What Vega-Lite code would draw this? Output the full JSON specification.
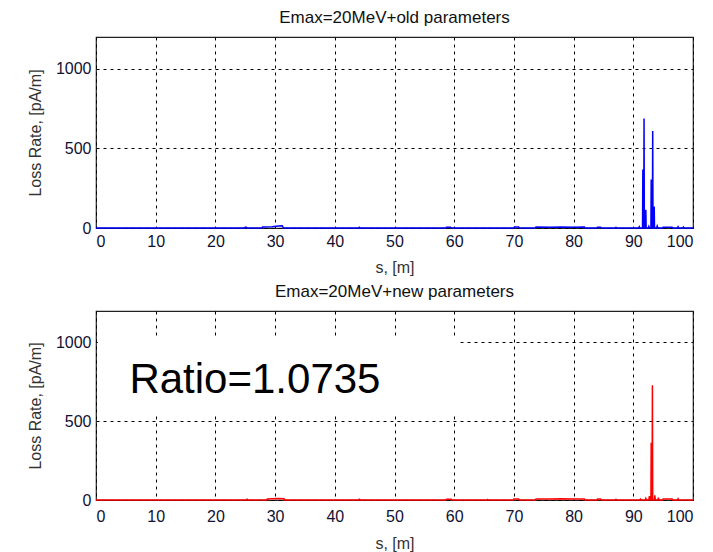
{
  "$schema": "https://vega.github.io/schema/vega-lite/v6.json",
  "padding": {"left": 26, "top": 8, "right": 16, "bottom": 5},
  "background": "white",
  "config": {
    "font": "Liberation Sans",
    "view": {"stroke": "#222222", "strokeWidth": 1.2},
    "axis": {
      "grid": true, "gridColor": "#000000", "gridDash": [3, 4], "gridWidth": 1, "gridOpacity": 1,
      "domain": false, "ticks": false, "format": "d",
      "labelFont": "Liberation Sans", "labelFontSize": 16, "labelColor": "#111133",
      "titleFont": "Liberation Sans", "titleFontSize": 16, "titleFontWeight": "normal", "titleColor": "#333333"
    },
    "title": {"font": "Liberation Sans", "fontSize": 17, "fontWeight": "normal", "color": "#111111", "offset": 10}
  },
  "datasets": {
    "old": [
      {"s": 0, "rate": 0}, {"s": 24.9, "rate": 0}, {"s": 25.0, "rate": 5}, {"s": 25.2, "rate": 5}, {"s": 25.3, "rate": 0},
      {"s": 27.8, "rate": 0}, {"s": 27.9, "rate": 6}, {"s": 29.5, "rate": 8}, {"s": 30.5, "rate": 12}, {"s": 31.2, "rate": 14}, {"s": 31.4, "rate": 0},
      {"s": 44.0, "rate": 0}, {"s": 44.1, "rate": 5}, {"s": 44.3, "rate": 0},
      {"s": 58.6, "rate": 0}, {"s": 58.7, "rate": 5}, {"s": 59.4, "rate": 5}, {"s": 59.5, "rate": 0},
      {"s": 70.0, "rate": 0}, {"s": 70.1, "rate": 6}, {"s": 70.8, "rate": 6}, {"s": 70.9, "rate": 0},
      {"s": 73.6, "rate": 0}, {"s": 73.7, "rate": 6}, {"s": 76.0, "rate": 5}, {"s": 78.0, "rate": 6}, {"s": 80.0, "rate": 5}, {"s": 81.8, "rate": 6}, {"s": 81.9, "rate": 0},
      {"s": 83.9, "rate": 0}, {"s": 84.0, "rate": 5}, {"s": 84.5, "rate": 5}, {"s": 84.6, "rate": 0},
      {"s": 87.0, "rate": 0}, {"s": 87.1, "rate": 4}, {"s": 87.2, "rate": 0},
      {"s": 90.9, "rate": 0}, {"s": 91.0, "rate": 8}, {"s": 91.1, "rate": 0},
      {"s": 91.55, "rate": 0}, {"s": 91.6, "rate": 367}, {"s": 91.65, "rate": 0}, {"s": 91.75, "rate": 0}, {"s": 91.8, "rate": 688}, {"s": 91.85, "rate": 0},
      {"s": 92.05, "rate": 0}, {"s": 92.1, "rate": 115}, {"s": 92.15, "rate": 0},
      {"s": 92.5, "rate": 0}, {"s": 92.6, "rate": 10}, {"s": 92.7, "rate": 0},
      {"s": 92.95, "rate": 0}, {"s": 93.0, "rate": 304}, {"s": 93.05, "rate": 0}, {"s": 93.2, "rate": 0}, {"s": 93.25, "rate": 610}, {"s": 93.3, "rate": 0},
      {"s": 93.45, "rate": 0}, {"s": 93.5, "rate": 135}, {"s": 93.55, "rate": 0},
      {"s": 93.9, "rate": 0}, {"s": 94.0, "rate": 12}, {"s": 94.1, "rate": 0},
      {"s": 94.9, "rate": 0}, {"s": 95.0, "rate": 5}, {"s": 96.5, "rate": 5}, {"s": 96.6, "rate": 0},
      {"s": 97.4, "rate": 0}, {"s": 97.5, "rate": 8}, {"s": 97.6, "rate": 0},
      {"s": 98.3, "rate": 0}, {"s": 98.4, "rate": 6}, {"s": 98.5, "rate": 0},
      {"s": 100, "rate": 0}
    ],
    "new": [
      {"s": 0, "rate": 0}, {"s": 25.2, "rate": 0}, {"s": 25.3, "rate": 5}, {"s": 25.4, "rate": 0},
      {"s": 28.6, "rate": 0}, {"s": 28.7, "rate": 6}, {"s": 29.5, "rate": 8}, {"s": 30.5, "rate": 9}, {"s": 31.5, "rate": 8}, {"s": 31.6, "rate": 0},
      {"s": 44.0, "rate": 0}, {"s": 44.1, "rate": 5}, {"s": 44.3, "rate": 0},
      {"s": 58.6, "rate": 0}, {"s": 58.7, "rate": 5}, {"s": 59.5, "rate": 5}, {"s": 59.6, "rate": 0},
      {"s": 65.5, "rate": 0}, {"s": 65.6, "rate": 3}, {"s": 65.7, "rate": 0},
      {"s": 69.9, "rate": 0}, {"s": 70.0, "rate": 7}, {"s": 70.8, "rate": 7}, {"s": 70.9, "rate": 0},
      {"s": 73.6, "rate": 0}, {"s": 73.7, "rate": 7}, {"s": 76.0, "rate": 6}, {"s": 78.0, "rate": 8}, {"s": 80.0, "rate": 6}, {"s": 81.8, "rate": 7}, {"s": 81.9, "rate": 0},
      {"s": 83.9, "rate": 0}, {"s": 84.0, "rate": 6}, {"s": 84.5, "rate": 6}, {"s": 84.6, "rate": 0},
      {"s": 87.0, "rate": 0}, {"s": 87.1, "rate": 4}, {"s": 87.2, "rate": 0},
      {"s": 91.1, "rate": 0}, {"s": 91.2, "rate": 6}, {"s": 91.3, "rate": 0},
      {"s": 92.0, "rate": 0}, {"s": 92.1, "rate": 10}, {"s": 92.2, "rate": 0},
      {"s": 92.6, "rate": 0}, {"s": 92.7, "rate": 25}, {"s": 92.8, "rate": 0},
      {"s": 92.95, "rate": 0}, {"s": 93.0, "rate": 363}, {"s": 93.05, "rate": 0}, {"s": 93.15, "rate": 0}, {"s": 93.2, "rate": 728}, {"s": 93.25, "rate": 0},
      {"s": 93.55, "rate": 0}, {"s": 93.6, "rate": 30}, {"s": 93.7, "rate": 0},
      {"s": 94.1, "rate": 0}, {"s": 94.2, "rate": 15}, {"s": 94.3, "rate": 0},
      {"s": 94.9, "rate": 0}, {"s": 95.0, "rate": 7}, {"s": 96.5, "rate": 7}, {"s": 96.6, "rate": 0},
      {"s": 97.4, "rate": 0}, {"s": 97.5, "rate": 8}, {"s": 97.6, "rate": 0},
      {"s": 100, "rate": 0}
    ]
  },
  "vconcat": [
    {
      "width": 597, "height": 191,
      "title": "Emax=20MeV+old parameters",
      "data": {"name": "old"},
      "mark": {"type": "line", "color": "#0000ff", "strokeWidth": 1.5, "interpolate": "linear"},
      "encoding": {
        "x": {"field": "s", "type": "quantitative", "title": "s, [m]",
              "scale": {"domain": [0, 100], "nice": false},
              "axis": {"values": [0, 10, 20, 30, 40, 50, 60, 70, 80, 90, 100], "labelPadding": 5, "titlePadding": 10}},
        "y": {"field": "rate", "type": "quantitative", "title": "Loss Rate, [pA/m]",
              "scale": {"domain": [0, 1200], "nice": false},
              "axis": {"values": [0, 500, 1000], "labelPadding": 5, "titlePadding": 12}}
      }
    },
    {
      "width": 597, "height": 189,
      "title": "Emax=20MeV+new parameters",
      "layer": [
        {
          "data": {"name": "new"},
          "mark": {"type": "line", "color": "#ff0000", "strokeWidth": 1.5},
          "encoding": {
            "x": {"field": "s", "type": "quantitative", "title": "s, [m]",
                  "scale": {"domain": [0, 100], "nice": false},
                  "axis": {"values": [0, 10, 20, 30, 40, 50, 60, 70, 80, 90, 100], "labelPadding": 8, "titlePadding": 11}},
            "y": {"field": "rate", "type": "quantitative", "title": "Loss Rate, [pA/m]",
                  "scale": {"domain": [0, 1200], "nice": false},
                  "axis": {"values": [0, 500, 1000], "labelPadding": 5, "titlePadding": 12}}
          }
        },
        {
          "data": {"values": [{"label": "Ratio=1.0735"}]},
          "mark": {"type": "rect", "color": "white", "opacity": 1},
          "encoding": {
            "x": {"datum": 0.3, "type": "quantitative"},
            "x2": {"datum": 61},
            "y": {"datum": 540, "type": "quantitative"},
            "y2": {"datum": 1030}
          }
        },
        {
          "data": {"values": [{"label": "Ratio=1.0735"}]},
          "mark": {"type": "text", "align": "left", "baseline": "alphabetic", "fontSize": 42, "font": "Liberation Sans", "color": "#000000"},
          "encoding": {
            "x": {"datum": 5.6, "type": "quantitative"},
            "y": {"datum": 680, "type": "quantitative"},
            "text": {"field": "label"}
          }
        }
      ]
    }
  ],
  "spacing": 6
}
